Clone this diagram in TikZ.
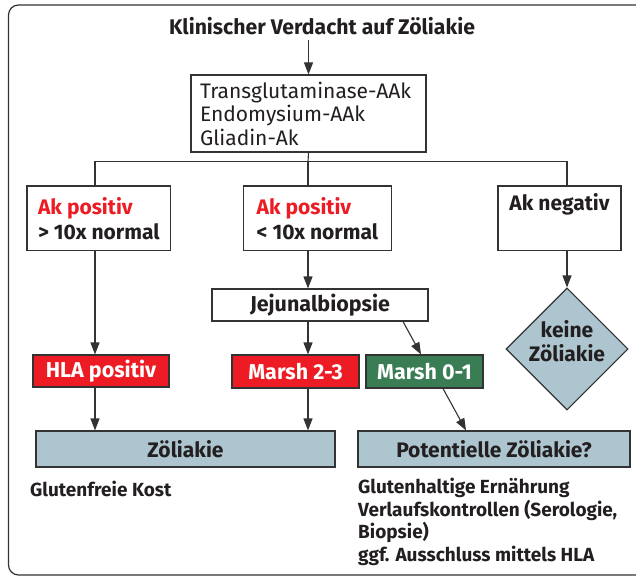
\documentclass[tikz,border=0pt]{standalone}
\usepackage{fontspec}
\setmainfont{Fira Sans}
\usetikzlibrary{arrows.meta,shapes.geometric,calc}

\definecolor{zred}{HTML}{ED1C24}
\definecolor{zgreen}{HTML}{3A7D55}
\definecolor{zblue}{HTML}{ADC5CF}
\definecolor{zline}{HTML}{333333}
\definecolor{ztext}{HTML}{231F20}

\tikzset{
    box/.style={draw=zline, line width=1.1pt, inner sep=0pt, fill=white, text=ztext},
    akbox/.style={box, align=left, minimum height=64.7pt, font=\fontsize{21}{25}\selectfont\bfseries},
    redbox/.style={box, fill=zred, text=white, minimum height=33pt, font=\fontsize{21.5}{24}\selectfont\bfseries},
    endbox/.style={box, fill=zblue, minimum height=36pt, font=\fontsize{21}{23}\selectfont\bfseries},
    arr/.style={-{Triangle[length=12pt,width=9pt]}, line width=1.1pt, draw=zline},
    con/.style={line width=1.1pt, draw=zline},
    note/.style={inner sep=0pt, align=left, text=ztext, font=\fontsize{19}{22.5}\selectfont\bfseries}
}

\begin{document}
\begin{tikzpicture}[x=1pt, y=-1pt]
    \useasboundingbox (0,0) rectangle (636,577);
    % Frame, open to the right
    \draw[zline, line width=1.2pt, rounded corners=10pt] (660,5) -- (8.5,5) -- (8.5,575) -- (660,575);

    % Top: suspicion and antibody tests
    \node[inner sep=0pt, text=ztext, font=\fontsize{21.2}{24}\selectfont\bfseries] (title) at (322,26) {Klinischer Verdacht auf Zöliakie};
    \node[box, align=left, minimum width=235pt, minimum height=77pt, text width=217pt,
          font=\fontsize{21}{23.5}\selectfont] (tests) at (308.5,113.5)
          {Transglutaminase-AAk\\Endomysium-AAk\\Gliadin-Ak};
    \draw[arr] ($(tests.north |- title.south)+(0,5)$) -- (tests.north);

    % Columns
    \coordinate (c1) at (95,0);
    \coordinate (c2) at (308,0);
    \coordinate (c3) at (567,0);
    \coordinate (bar) at (308,161.7);

    \node[akbox, minimum width=143.7pt] (akhigh) at (98.85,218.35)
          {\textcolor{zred}{Ak positiv}\\> 10x normal};
    \node[akbox, minimum width=148.7pt] (aklow) at (317.4,218.35)
          {\textcolor{zred}{Ak positiv}\\< 10x normal};
    \node[akbox, align=center, minimum width=123pt] (akneg) at (559.5,218.35)
          {Ak negativ\\\strut};

    \draw[con] (tests.south) -- (bar);
    \draw[con] (akhigh.north -| c1) |- (bar) -| (akneg.north -| c3);
    \draw[con] (bar) -- (aklow.north -| c2);

    % Biopsy branch
    \node[box, minimum width=216pt, minimum height=32pt, font=\fontsize{21.5}{23}\selectfont\bfseries] (jejunal) at (320,305) {Jejunalbiopsie};
    \node[redbox, minimum width=127pt] (marsh23) at (295.5,371.5) {Marsh 2-3};
    \node[redbox, fill=zgreen, minimum width=117pt] (marsh01) at (424.5,371.5) {Marsh 0-1};
    \node[redbox, minimum width=136pt, minimum height=32pt] (hla) at (101,371) {HLA positiv};
    \node[box, diamond, fill=zblue, minimum width=122pt, minimum height=122pt] (keine) at (567,349) {};
    \node[inner sep=0pt, align=center, text=ztext, font=\fontsize{21}{23.5}\selectfont\bfseries] (keinetext)
          at ($(keine)+(0,-8)$) {keine\\Zöliakie};

    \draw[arr] (aklow.south -| c2) -- (jejunal.north -| c2);
    \draw[arr] (jejunal.south -| c2) -- (marsh23.north -| c2);
    \draw[arr] ($(jejunal.south)+(83,0)$) -- ($(marsh01.north)+(-3.5,0)$);
    \draw[arr] (akhigh.south -| c1) -- (hla.north -| c1);
    \draw[arr] (akneg.south -| c3) -- (keine.north);

    % Outcomes
    \node[endbox, minimum width=299pt] (zoel) at (185.5,449) {Zöliakie};
    \node[endbox, minimum width=272pt] (potz) at (494,449) {Potentielle Zöliakie?};

    \draw[arr] (hla.south -| c1) -- (zoel.north -| c1);
    \draw[arr] (marsh23.south -| c2) -- (zoel.north -| c2);
    \draw[arr] ($(marsh01.south)+(18.5,0)$) -- ($(potz.north)+(-28,0)$);

    % Notes below
    \node[note, anchor=north west] (kost) at (30,481) {Glutenfreie Kost};
    \node[note, anchor=north west] (verlauf) at (358,478)
          {Glutenhaltige Ernährung\\Verlaufskontrollen (Serologie,\\Biopsie)\\ggf. Ausschluss mittels HLA};
\end{tikzpicture}
\end{document}
